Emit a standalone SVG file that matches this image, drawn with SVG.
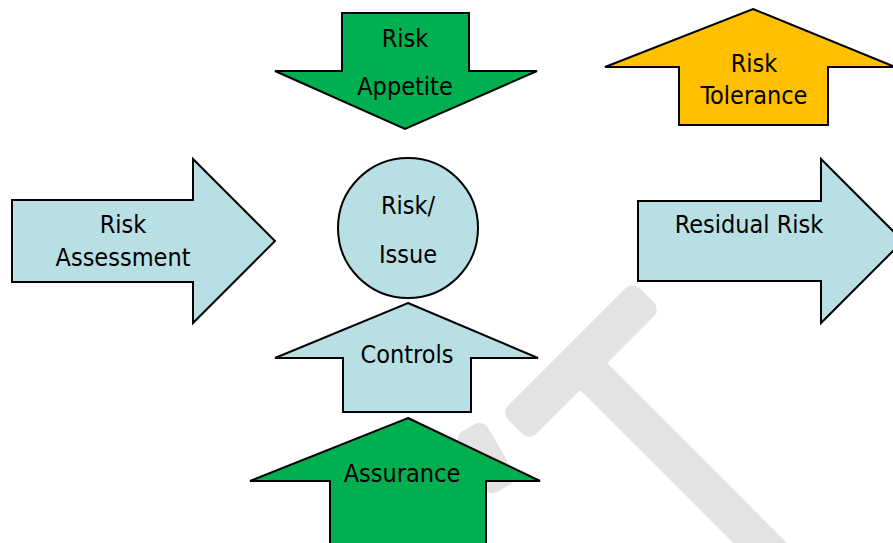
<svg xmlns="http://www.w3.org/2000/svg" width="893" height="543" viewBox="0 0 893 543">
<style>
.shape{stroke:#000;stroke-width:2;stroke-linejoin:miter}
.blue{fill:#b8dfe3}
.green{fill:#00b050}
.yellow{fill:#ffc000}
.wm{fill:#e3e3e3}
text{font-family:"DejaVu Sans","Liberation Sans",sans-serif;font-stretch:condensed;font-size:25px;fill:#000;text-anchor:middle}
</style>
<rect width="893" height="543" fill="#fff"/>
<g id="watermark">
  <rect class="wm" x="0" y="-19" width="320" height="38" transform="translate(578 361) rotate(45)"/>
  <rect class="wm" x="-93" y="-20" width="186" height="40" rx="10" transform="translate(581 361) rotate(-45)"/>
  <rect class="wm" x="-35" y="-17" width="70" height="34" rx="10" transform="translate(486 458) rotate(60)"/>
</g>
<g id="risk-appetite">
  <polygon class="shape green" points="342,13 469,13 469,71 537,71 405,129 275,71 342,71"/>
  <text x="405" y="47">Risk</text>
  <text x="405" y="95">Appetite</text>
</g>
<g id="risk-tolerance">
  <polygon class="shape yellow" points="753,9 895,67 828,67 828,125 679,125 679,67 605,67"/>
  <text x="754" y="72">Risk</text>
  <text x="754" y="104">Tolerance</text>
</g>
<g id="risk-assessment">
  <polygon class="shape blue" points="12,200 193,200 193,159 275,241 193,323 193,282 12,282"/>
  <text x="123" y="233">Risk</text>
  <text x="123" y="266">Assessment</text>
</g>
<g id="residual-risk">
  <polygon class="shape blue" points="638,201 821,201 821,159 903,241 821,323 821,281 638,281"/>
  <text x="749" y="233">Residual Risk</text>
</g>
<g id="risk-issue">
  <circle class="shape blue" cx="408" cy="228" r="70"/>
  <text x="408" y="214">Risk/</text>
  <text x="408" y="263">Issue</text>
</g>
<g id="controls">
  <polygon class="shape blue" points="408,303 538,358 471,358 471,412 343,412 343,358 275,358"/>
  <text x="407" y="363">Controls</text>
</g>
<g id="assurance">
  <polygon class="shape green" points="408,418 540,481 486,481 486,550 330,550 330,481 250,481"/>
  <text x="402" y="482">Assurance</text>
</g>
<g id="connectors"></g>
</svg>
